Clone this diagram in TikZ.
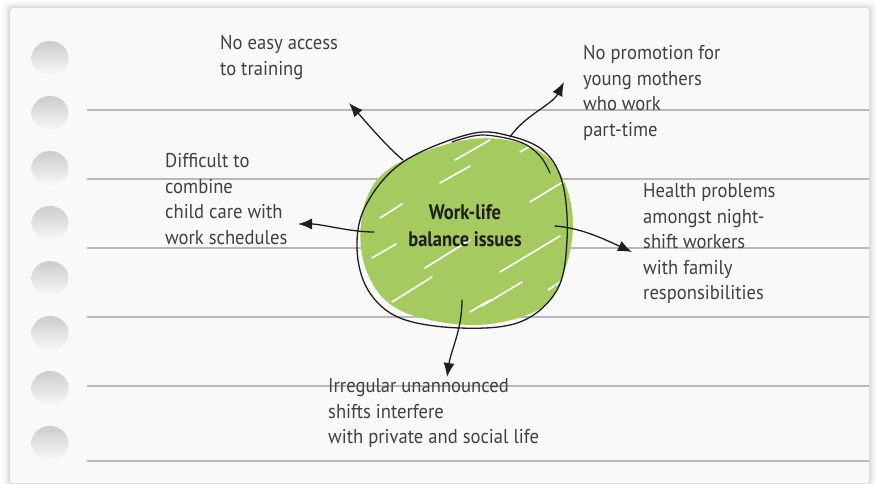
\documentclass[tikz,border=0pt]{standalone}
\usepackage{fontspec}
\setmainfont{PT Sans}[FakeStretch=0.93]
\newfontfamily\hubfont{PT Sans}[FakeStretch=0.88]
\usetikzlibrary{arrows.meta}
\definecolor{paper}{HTML}{F9F9F9}
\definecolor{ruleclr}{HTML}{B8B8B8}
\definecolor{txt}{HTML}{404040}
\definecolor{ink}{HTML}{1E1E1E}
\definecolor{leaf}{HTML}{A4CA60}
\begin{document}
\begin{tikzpicture}[x=1pt,y=-1pt,
  lbl/.style={anchor=north west, inner sep=0pt, align=left, text=txt,
    font=\fontsize{20}{25.5}\selectfont},
  hub/.style={inner sep=0pt, align=center, text=ink,
    font=\hubfont\bfseries\fontsize{21}{27}\selectfont},
  arr/.style={draw=ink, line width=1.3pt, line cap=round,
    -{Latex[length=14pt,width=11pt]}},
  rulel/.style={draw=ruleclr, line width=1.2pt},
  hole/.style={top color=black!20, bottom color=white!97!black},
  streak/.style={draw=white, line width=1.6pt, line cap=round}]
\useasboundingbox (0,0) rectangle (876,483);
\fill[white] (0,0) rectangle (876,483);
% card with soft shadow
\foreach \i/\o in {7/0.025,5/0.03,3/0.04,1.5/0.05}
  \fill[black,opacity=\o,rounded corners=5] (10-\i,8-\i) rectangle (869+\i,483+\i);
\fill[paper,rounded corners=3] (10,8) rectangle (869,483);
% ruled lines
\foreach \yy in {110,179,248,317,386,461}
  \draw[rulel] (87,\yy) -- (869,\yy);
% binder holes
\foreach \k in {0,...,7}
  \shade[hole] (50,58+55*\k) ellipse [x radius=18.5, y radius=17];
% green scribble blob
\begin{scope}
  \path[clip] plot[smooth cycle, tension=0.6] coordinates {(465,140)(520,143)(555,165)(572,210)(568,260)(545,305)(490,324)(430,320)(385,300)(362,255)(366,200)(395,165)};
  \fill[leaf] (350,130) rectangle (580,335);
  \foreach \a/\b/\c/\d in {455/160/490/140, 520/152/545/138, 380/218/402/204, 425/268/470/240,
      500/272/560/236, 392/302/432/277, 482/306/522/282, 530/202/566/180, 440/183/470/166,
      372/258/396/244, 548/290/566/278, 410/145/432/133, 470/312/490/300}
    \draw[streak] (\a,\b) -- (\c,\d);
\end{scope}
% outline
\draw[ink, line width=1.3pt] plot[smooth cycle, tension=0.6] coordinates {(470,134)(510,136)(545,152)(563,185)(567,240)(557,290)(520,322)(460,328)(400,318)(368,290)(357,248)(366,205)(403,162)};
\draw[ink, line width=1.2pt, line cap=round] plot[smooth, tension=0.6] coordinates {(452,142)(482,135)(520,142)(540,156)(550,173)};
% nodes
\node[hub] (hub) at (465,226) {Work-life\\balance issues};
\node[lbl] (training) at (220,35.5) {No easy access\\to training};
\node[lbl] (promo) at (583,45.5) {No promotion for\\young mothers\\who work\\part-time};
\node[lbl] (child) at (165,153.5) {Difficult to\\combine\\child care with\\work schedules};
\node[lbl] (health) at (643,183.5) {Health problems\\amongst night-\\shift workers\\with family\\responsibilities};
\node[lbl] (shifts) at (328,378.5) {Irregular unannounced\\shifts interfere\\with private and social life};
% arrow anchor points
\coordinate (s1) at (403,160); \coordinate (e1) at (349,103);
\coordinate (s2) at (510,137); \coordinate (e2) at (564,82);
\coordinate (s3) at (374,232); \coordinate (e3) at (298,224);
\coordinate (s4) at (555,226); \coordinate (e4) at (632,252);
\coordinate (s5) at (462,300); \coordinate (e5) at (447,377);
\draw[arr] (s1) .. controls (388,148) and (366,122) .. (e1);
\draw[arr] (s2) .. controls (525,115) and (552,105) .. (e2);
\draw[arr] (s3) .. controls (350,232) and (322,224) .. (e3);
\draw[arr] (s4) .. controls (582,228) and (606,240) .. (e4);
\draw[arr] (s5) .. controls (462,330) and (451,350) .. (e5);
\end{tikzpicture}
\end{document}
